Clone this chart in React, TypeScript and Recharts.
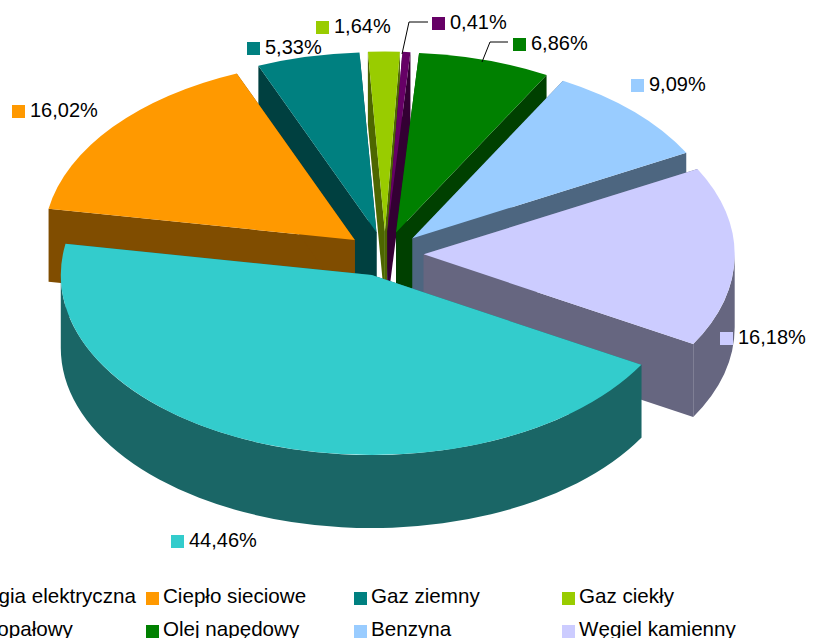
import { Pie, PieChart } from 'recharts';

const FONT = '"Liberation Sans", Arial, sans-serif';

const categories = ['Ciepło sieciowe', 'Gaz ziemny', 'Gaz ciekły', 'Olej opałowy', 'Olej napędowy', 'Benzyna', 'Węgiel kamienny', 'Energia elektryczna'];
const shares = [16.02, 5.33, 1.64, 0.41, 6.86, 9.09, 16.18, 44.46];
const topColors = ['#FF9900', '#008080', '#99CC00', '#660066', '#008000', '#99CCFF', '#CCCCFF', '#33CCCC'];
const sideColors = ['#804D00', '#004040', '#4D6600', '#330033', '#004000', '#4D6680', '#666680', '#1A6666'];

const legendOrder = ['Energia elektryczna', 'Ciepło sieciowe', 'Gaz ziemny', 'Gaz ciekły', 'Olej opałowy', 'Olej napędowy', 'Benzyna', 'Węgiel kamienny'];

// these two sit in front of their neighbours, so they get painted in a second pass
const frontSlices = [0, 7];

const CX = 385;
const CY = 254;
const RADIUS = 311;
const SQUASH = 180 / 311;
const EXPLODE = 38.7;
const DEPTH = 73;

// square corner of each data label, same order as categories
const labelSpots = [
    { x: 12, y: 105 },
    { x: 247, y: 42 },
    { x: 316, y: 21 },
    { x: 432, y: 17 },
    { x: 513, y: 38 },
    { x: 631, y: 79 },
    { x: 720, y: 332 },
    { x: 171, y: 535 }
];

const leaders: Record<number, string> = {
    3: '402,54 409,22 428,22',
    4: '482,62 490,42 508,42'
};

const RAD = Math.PI / 180;

function Slice3D(props: any) {
    const { cx, cy, outerRadius, startAngle, endAngle, midAngle, index } = props;
    const ry = outerRadius * SQUASH;
    const ax = cx + EXPLODE * Math.cos(midAngle * RAD);
    const ay = cy - EXPLODE * SQUASH * Math.sin(midAngle * RAD);
    const px = (a: number) => ax + outerRadius * Math.cos(a * RAD);
    const py = (a: number) => ay - ry * Math.sin(a * RAD);
    const side = sideColors[index];

    const cut = (a: number) =>
        `M${ax},${ay} L${px(a)},${py(a)} L${px(a)},${py(a) + DEPTH} L${ax},${ay + DEPTH} Z`;

    // outer wall only shows on the front half
    const from = Math.min(startAngle, 0);
    const to = Math.max(endAngle, -180);
    const wall =
        from > to
            ? `M${px(from)},${py(from)} A${outerRadius},${ry} 0 0 1 ${px(to)},${py(to)} L${px(to)},${py(to) + DEPTH} A${outerRadius},${ry} 0 0 0 ${px(from)},${py(from) + DEPTH} Z`
            : null;

    const top = `M${ax},${ay} L${px(startAngle)},${py(startAngle)} A${outerRadius},${ry} 0 ${startAngle - endAngle > 180 ? 1 : 0} 1 ${px(endAngle)},${py(endAngle)} Z`;

    return (
        <g>
            <path d={cut(startAngle)} fill={side} />
            <path d={cut(endAngle)} fill={side} />
            {wall && <path d={wall} fill={side} />}
            <path d={top} fill={topColors[index]} />
        </g>
    );
}

const BackSlice = (props: any) => (frontSlices.includes(props.index) ? <g /> : <Slice3D {...props} />);
const FrontSlice = (props: any) => (frontSlices.includes(props.index) ? <Slice3D {...props} /> : <g />);

function SliceLabel(props: any) {
    const { index, value } = props;
    const spot = labelSpots[index];
    return (
        <g>
            {leaders[index] && <polyline points={leaders[index]} fill="none" stroke="#000" strokeWidth={1} />}
            <rect x={spot.x} y={spot.y} width={13} height={13} fill={topColors[index]} />
            <text x={spot.x + 18} y={spot.y + 12} fontFamily={FONT} fontSize={20} fill="#000">
                {value.toFixed(2).replace('.', ',')}%
            </text>
        </g>
    );
}

function ChartLegend() {
    return (
        <>
            {legendOrder.map((name, i) => {
                const col = i % 4;
                const row = Math.floor(i / 4);
                const left = -62 + col * 208;
                const top = 592 + row * 33;
                return (
                    <div key={name} style={{ position: 'absolute', left, top, whiteSpace: 'nowrap' }}>
                        <div style={{ position: 'absolute', left: 0, top: 0, width: 13, height: 13, background: topColors[categories.indexOf(name)] }} />
                        <div style={{ position: 'absolute', left: 17, top: -8, fontFamily: FONT, fontSize: 20.6, lineHeight: '24px', color: '#000' }}>
                            {name}
                        </div>
                    </div>
                );
            })}
        </>
    );
}

export default function App() {
    const data = categories.map((name, i) => ({ name, value: shares[i] }));

    return (
        <div style={{ position: 'absolute', left: 0, top: 0, width: 834, height: 638, overflow: 'hidden', background: '#fff' }}>
            <PieChart width={834} height={638} margin={{ top: 0, right: 0, bottom: 0, left: 0 }}>
                <Pie
                    data={data}
                    dataKey="value"
                    nameKey="name"
                    cx={CX}
                    cy={CY}
                    innerRadius={0}
                    outerRadius={RADIUS}
                    startAngle={170}
                    endAngle={-190}
                    stroke="none"
                    shape={BackSlice}
                    label={SliceLabel}
                    labelLine={false}
                    isAnimationActive={false}
                />
                <Pie
                    data={data}
                    dataKey="value"
                    nameKey="name"
                    cx={CX}
                    cy={CY}
                    innerRadius={0}
                    outerRadius={RADIUS}
                    startAngle={170}
                    endAngle={-190}
                    stroke="none"
                    shape={FrontSlice}
                    isAnimationActive={false}
                />
            </PieChart>
            <ChartLegend />
        </div>
    );
}
